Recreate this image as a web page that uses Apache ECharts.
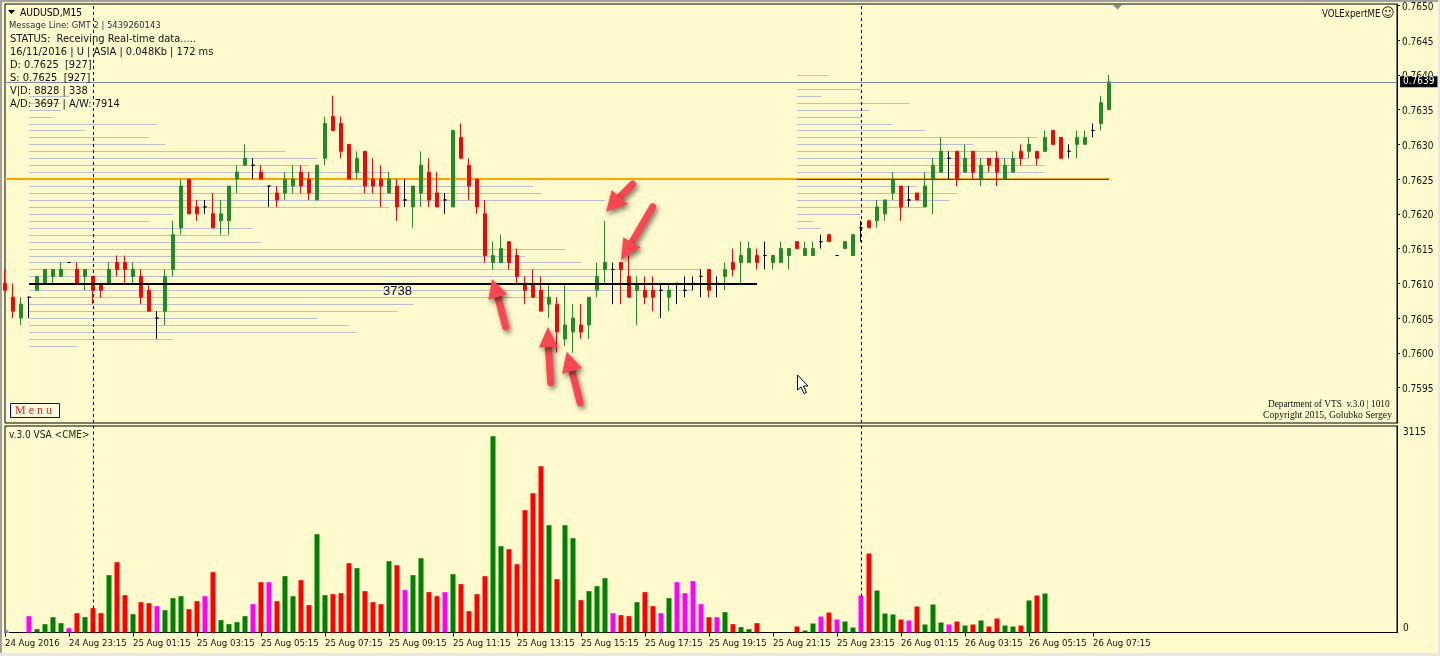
<!DOCTYPE html>
<html>
<head>
<meta charset="utf-8">
<style>html,body{margin:0;padding:0;background:#FFFACD;overflow:hidden}#c{width:1440px;height:656px}</style>
<script src="https://cdn.jsdelivr.net/npm/echarts@6/dist/echarts.min.js"></script>
</head>
<body>
<div id="c"></div>
<script>
// M15 candles, prices in 1/10000 units, index = bar number
const opens  = [7610,7608,7605,7608,7609,7610,7611,7611,7613,7612,7611,7611,7610,7610,7613,7613,7611,7611,7609,7605,7606,7612,7618,7625,7621,7621,7620,7619,7619,7625,7627,7627,7626,7624,7623,7623,7624,7626,7625,7622,7628,7634,7633,7630,7626,7629,7625,7625,7623,7624,7622,7621,7623,7626,7623,7622,7621,7631,7627,7625,7620,7613,7613,7616,7614,7610,7610,7609,7607,7607,7602,7603,7604,7604,7609,7612,7612,7613,7611,7609,7609,7609,7609,7608,7610,7609,7610,7611,7612,7610,7611,7613,7613,7613,7614,7614,7613,7613,7614,7616,7614,7614,7616,7617,7614,7615,7614,7618,7619,7619,7620,7623,7624,7622,7623,7621,7625,7626,7628,7629,7626,7629,7625,7628,7628,7625,7626,7629,7629,7629,7629,7632,7631,7629,7630,7630,7632,7633,7635];
const closes = [7609,7606,7607,7608,7611,7612,7612,7612,7613,7610,7612,7609,7609,7612,7612,7612,7612,7608,7606,7605,7611,7617,7624,7620,7620,7621,7618,7620,7624,7626,7628,7627,7625,7624,7622,7625,7625,7624,7623,7627,7633,7632,7629,7625,7628,7624,7624,7624,7625,7621,7622,7624,7627,7622,7621,7622,7632,7628,7624,7621,7614,7614,7615,7613,7611,7609,7608,7606,7608,7603,7604,7605,7603,7608,7611,7613,7612,7612,7608,7610,7608,7608,7609,7609,7610,7609,7610,7611,7609,7610,7612,7612,7614,7615,7613,7614,7614,7615,7615,7615,7615,7615,7616,7616,7614,7616,7617,7618,7618,7621,7622,7625,7621,7622,7622,7624,7627,7629,7628,7625,7628,7626,7627,7627,7626,7627,7628,7628,7630,7628,7631,7630,7628,7629,7631,7631,7632,7636,7639];
const lows   = [7609,7605,7604,7605,7609,7610,7610,7611,7613,7610,7609,7607,7608,7610,7611,7610,7610,7607,7606,7602,7604,7611,7617,7620,7619,7620,7618,7617,7617,7623,7627,7625,7625,7621,7621,7622,7623,7623,7622,7622,7627,7632,7628,7625,7625,7623,7623,7621,7623,7619,7621,7618,7621,7621,7621,7620,7621,7628,7622,7620,7613,7612,7613,7612,7610,7607,7608,7606,7605,7600,7601,7600,7602,7602,7608,7610,7607,7607,7608,7604,7607,7606,7605,7606,7607,7608,7609,7608,7608,7608,7609,7611,7610,7613,7612,7612,7612,7613,7612,7615,7614,7614,7615,7616,7614,7615,7614,7616,7618,7618,7619,7622,7619,7621,7622,7621,7620,7626,7625,7624,7626,7625,7624,7626,7624,7625,7626,7627,7628,7627,7629,7630,7628,7628,7628,7630,7631,7632,7635];
const highs  = [7612,7610,7608,7608,7611,7612,7612,7613,7613,7613,7612,7611,7610,7613,7614,7614,7613,7612,7610,7606,7612,7619,7625,7625,7622,7622,7623,7622,7624,7627,7630,7628,7627,7624,7624,7626,7627,7627,7626,7627,7634,7637,7634,7630,7629,7629,7628,7627,7626,7625,7625,7624,7629,7628,7626,7623,7632,7633,7628,7625,7622,7616,7617,7616,7615,7611,7612,7611,7610,7608,7610,7607,7607,7608,7613,7619,7613,7613,7614,7611,7611,7611,7610,7610,7610,7611,7611,7612,7612,7611,7613,7615,7616,7616,7615,7616,7614,7616,7615,7616,7616,7616,7617,7617,7614,7616,7617,7619,7619,7622,7622,7626,7624,7624,7623,7626,7628,7631,7629,7629,7630,7629,7628,7628,7629,7628,7629,7630,7631,7629,7632,7632,7631,7630,7632,7632,7633,7637,7640];
// VSA volume, one value and one colour letter per bar
const volumes = [0,0,0,259,53,132,243,148,69,307,243,386,307,910,1116,592,291,481,465,418,354,545,576,370,497,576,957,196,132,164,259,450,799,799,497,894,576,830,434,1560,592,608,624,1100,1021,656,481,450,1132,1068,672,910,1179,640,576,640,926,767,338,608,894,3115,1370,1322,1084,1941,2211,2639,1703,846,1703,1497,513,656,735,862,307,275,259,481,640,418,307,545,799,624,815,450,243,243,323,132,85,53,148,0,0,0,0,95,32,143,254,317,206,175,79,587,1253,666,301,286,206,190,413,127,444,159,127,175,111,127,190,95,222,111,95,111,508,587,619];
const volumeKinds = ['ggg','mggggmr','grrgrrgrrm','gggrrmrggg','gmrmrggrrg','grrrgrrrgr','mggrrmgrrr','rggrrrrrgr','ggrgggmrrg','rrmgmmmmrm','grggrggggr','ggmrmggmrg','ggrmrgggmr','grgrrggrgrg'].join('').split('');
// Volume profile levels (price) and the bar index where each row ends
const profileALevels = [7637,7636,7635,7634,7633,7632,7631,7630,7629,7628,7627,7626,7624,7623,7622,7621,7620,7619,7618,7617,7616,7615,7614,7613,7612,7611,7609,7608,7607,7606,7605,7604,7603,7602,7601];
const profileAEnds   = [8,7,7,6,19,10,18,20,35,39,38,48,66,67,75,48,21,18,31,28,32,70,65,72,87,74,86,68,51,49,39,43,44,21,9];
const profileBLevels = [7640,7638,7637,7636,7635,7634,7633,7632,7631,7630,7629,7628,7627,7626,7624,7623,7622,7621,7620,7619,7618];
const profileBEnds   = [103,107,102,113,108,107,111,115,129,121,124,128,130,130,114,119,118,115,107,101,102];
const tickLabels = ['24 Aug 2016','24 Aug 23:15','25 Aug 01:15','25 Aug 03:15','25 Aug 05:15','25 Aug 07:15','25 Aug 09:15','25 Aug 11:15','25 Aug 13:15','25 Aug 15:15','25 Aug 17:15','25 Aug 19:15','25 Aug 21:15','25 Aug 23:15','26 Aug 01:15','26 Aug 03:15','26 Aug 05:15','26 Aug 07:15'];
const priceTicks = [0.7595,0.76,0.7605,0.761,0.7615,0.762,0.7625,0.763,0.7635,0.764,0.7645,0.765];
const volumeTicks = [0,3115];
const separators = [11,107];
const infoLines = ['STATUS:  Receiving Real-time data.....','16/11/2016 | U | ASIA | 0.048Kb | 172 ms','D: 0.7625  [927]','S: 0.7625  [927]','V|D: 8828 | 338','A/D: 3697 | A/W: 7914'];

const BARS = 175, TICK_EVERY = 8;
const categories = Array.from({length: BARS}, (_, i) => String(i));
const UI = '"DejaVu Sans Condensed","DejaVu Sans",sans-serif';
const GREEN = '#228B22', RED = '#FF0000', LEMON = '#FFFACD';
const kindColor = {g: '#008000', r: '#FF0000', m: '#FF00FF'};
const p = v => v / 10000;

const candleData = opens.map((o, i) => [p(o), p(closes[i]), p(lows[i]), p(highs[i])]);
const volumeData = volumes.map((v, i) => ({value: v, itemStyle: {color: kindColor[volumeKinds[i]]}}));
const profileRows = [];
profileALevels.forEach((l, i) => profileRows.push([3, p(l), profileAEnds[i]]));
profileBLevels.forEach((l, i) => profileRows.push([99, p(l), profileBEnds[i]]));

function text(x, y, s, font, fill, extra) {
  return {type: 'text', x, y, z: 100, silent: true,
    style: Object.assign({text: s, font, fill: fill || '#000', verticalAlign: 'middle'}, extra || {})};
}
function arrow(tip, a, b, tail) {
  const mid = [(a[0] + b[0]) / 2, (a[1] + b[1]) / 2];
  const shadow = {shadowBlur: 5, shadowOffsetX: 2, shadowOffsetY: 3, shadowColor: 'rgba(0,0,0,0.5)'};
  return {type: 'group', z: 90, silent: true, children: [
    {type: 'line', z: 90, shape: {x1: tail[0], y1: tail[1], x2: mid[0], y2: mid[1]},
      style: Object.assign({stroke: '#F9474F', lineWidth: 7, lineCap: 'round'}, shadow)},
    {type: 'polygon', z: 91, shape: {points: [tip, a, b]}, style: Object.assign({fill: '#F9474F'}, shadow)}
  ]};
}
const graphics = [
  {type: 'rect', z: 1, silent: true, shape: {x: 0, y: 0, width: 1440, height: 2}, style: {fill: '#A0A0A0'}},
  {type: 'rect', z: 1, silent: true, shape: {x: 0, y: 0, width: 2, height: 656}, style: {fill: '#A0A0A0'}},
  {type: 'rect', z: 1, silent: true, shape: {x: 0, y: 653, width: 1440, height: 3}, style: {fill: '#E6E6E6'}},
  {type: 'rect', z: 1, silent: true, shape: {x: 1438, y: 0, width: 2, height: 656}, style: {fill: '#E6E6E6'}},
  {type: 'polygon', z: 100, silent: true, shape: {points: [[8, 10], [15, 10], [11.5, 14]]}, style: {fill: '#000'}},
  text(20, 13, 'AUDUSD,M15', '10.2px ' + UI),
  text(9, 25.5, 'Message Line: GMT 2 | 5439260143', '9.4px ' + UI, '#0A2E4A'),
  ...infoLines.map((t, i) => text(10, 39 + 13 * i, t, '11px ' + UI, '#111')),
  text(383, 291, '3738', '13px "Liberation Sans",sans-serif', '#0A0A2A'),
  text(1322, 14, 'VOLExpertME', '9.6px ' + UI, '#111'),
  text(1381, 14, '\u263A', '13px "DejaVu Sans",sans-serif', '#111'),
  {type: 'polygon', z: 100, silent: true, shape: {points: [[1113, 5], [1122, 5], [1117.5, 9.5]]}, style: {fill: '#7B8CA3'}},
  {type: 'polygon', z: 100, silent: true, shape: {points: [[5, 628], [5, 633], [10, 633]]}, style: {fill: '#7B8CA3'}},
  {type: 'rect', z: 100, silent: true, shape: {x: 10.5, y: 403.5, width: 49, height: 14}, style: {fill: '#FFFBE0', stroke: '#0000E0', lineWidth: 1}},
  text(15, 411, 'M e n u', '12px "Liberation Serif",serif', '#FF2020'),
  text(1268, 405, 'Department of VTS  v.3.0 | 1010', '9.3px "Liberation Serif",serif', '#111'),
  text(1263, 415, 'Copyright 2015, Golubko Sergey', '9.7px "Liberation Serif",serif', '#111'),
  text(9, 435, 'v.3.0 VSA <CME>', '10px ' + UI, '#222'),
  {type: 'polygon', z: 100, silent: true, shape: {points: [[797.5, 375], [797.5, 390], [801, 387], [804, 393.5], [806.5, 392.5], [803.5, 386], [808, 386]]}, style: {fill: '#fff', stroke: '#000', lineWidth: 1}},
  arrow([492, 279], [488.3, 300], [507.3, 294], [505.7, 327]),
  arrow([548, 326.7], [539, 347.3], [557.7, 347.3], [550.7, 382.7]),
  arrow([566.7, 351.7], [562, 374], [582, 368], [580, 402.7]),
  arrow([606, 211.7], [611.7, 190], [628, 204], [632.7, 184]),
  arrow([621, 260], [623.3, 237.3], [640.7, 247.3], [652.7, 206.7])
];

const sepLine = separators.map(i => ({xAxis: String(i), lineStyle: {color: '#000', width: 1, type: [3, 3]}}));
const shownTick = i => i % TICK_EVERY === 0 && i / TICK_EVERY < tickLabels.length;
const option = {
  animation: false,
  backgroundColor: LEMON,
  graphic: graphics,
  grid: [
    {left: 5, top: 4, width: 1392, height: 419, show: true, backgroundColor: LEMON, borderColor: '#000', borderWidth: 1},
    {left: 5, top: 426, width: 1392, height: 206.5, show: true, backgroundColor: LEMON, borderColor: '#000', borderWidth: 1}
  ],
  xAxis: [
    {type: 'category', gridIndex: 0, data: categories, boundaryGap: false, show: false},
    {type: 'category', gridIndex: 1, data: categories, boundaryGap: false,
      axisLine: {lineStyle: {color: '#000', width: 1}},
      axisTick: {length: 4, interval: shownTick, lineStyle: {color: '#000'}},
      axisLabel: {align: 'left', margin: 6, color: '#111', fontFamily: UI, fontSize: 9.5,
        interval: shownTick,
        formatter: (v, i) => tickLabels[i / TICK_EVERY] || ''},
      splitLine: {show: false}}
  ],
  yAxis: [
    {type: 'value', gridIndex: 0, position: 'right', min: 0.75899, max: 0.76502,
      axisLine: {show: true, lineStyle: {color: '#000'}},
      axisTick: {show: true, length: 3, customValues: priceTicks, lineStyle: {color: '#000'}},
      splitLine: {show: false},
      axisLabel: {margin: 5, color: '#111', fontFamily: UI, fontSize: 10, verticalAlign: 'top', lineHeight: 4, customValues: priceTicks, showMinLabel: true, showMaxLabel: true, formatter: v => (+v).toFixed(4)}},
    {type: 'value', gridIndex: 1, position: 'right', min: 0, max: 3277,
      axisLine: {show: true, lineStyle: {color: '#000'}},
      axisTick: {show: false},
      splitLine: {show: false},
      axisLabel: {margin: 6, color: '#111', fontFamily: UI, fontSize: 10, customValues: volumeTicks, verticalAlign: 'bottom', lineHeight: 8, formatter: v => String(v)}}
  ],
  series: [
    {type: 'custom', name: 'profile', xAxisIndex: 0, yAxisIndex: 0, z: 1, silent: true,
      encode: {x: [0, 2], y: 1}, data: profileRows,
      renderItem: (params, api) => {
        const a = api.coord([api.value(0), api.value(1)]);
        const b = api.coord([api.value(2), api.value(1)]);
        const y = Math.round(a[1]) + 0.5;
        return {type: 'line', shape: {x1: a[0], y1: y, x2: b[0], y2: y}, style: {stroke: '#BBBEC9', lineWidth: 1}};
      }},
    {type: 'line', name: 'poc', xAxisIndex: 0, yAxisIndex: 0, z: 2, data: [], silent: true,
      markLine: {z: 2, silent: true, symbol: 'none', animation: false, label: {show: false},
        data: [
          [{coord: ['0', 0.7625], lineStyle: {color: '#FFA500', width: 2, type: 'solid'}}, {coord: ['138', 0.7625]}]
        ]}},
    {type: 'candlestick', name: 'AUDUSD,M15', xAxisIndex: 0, yAxisIndex: 0, z: 3, barWidth: 4, data: candleData, silent: true,
      itemStyle: {color: GREEN, color0: RED, borderColor: GREEN, borderColor0: RED, borderColorDoji: '#000', borderWidth: 1}},
    {type: 'line', name: 'levels', xAxisIndex: 0, yAxisIndex: 0, z: 4, data: [], silent: true,
      markLine: {z: 4, silent: true, symbol: 'none', animation: false, label: {show: false},
        data: [
          [{coord: ['3', 0.761], lineStyle: {color: '#000', width: 2, type: 'solid'}}, {coord: ['94', 0.761]}],
          [{coord: ['99', 0.7625], lineStyle: {color: '#E00000', width: 1, type: 'solid'}}, {coord: ['138', 0.7625]}],
          [{coord: ['0', 0.7639], lineStyle: {color: '#778899', width: 1, type: 'solid'},
            label: {show: true, position: 'end', distance: 3, formatter: '0.7639', color: '#fff', backgroundColor: '#000',
              padding: [1, 3, 0, 3], fontFamily: UI, fontSize: 10}}, {coord: ['174', 0.7639]}],
          ...sepLine
        ]}},
    {type: 'bar', name: 'VSA', xAxisIndex: 1, yAxisIndex: 1, z: 3, barWidth: 5, data: volumeData, silent: true,
      markLine: {z: 4, silent: true, symbol: 'none', animation: false, label: {show: false}, data: sepLine}}
  ]
};
echarts.init(document.getElementById('c'), null, {renderer: 'canvas'}).setOption(option);
</script>
</body>
</html>
